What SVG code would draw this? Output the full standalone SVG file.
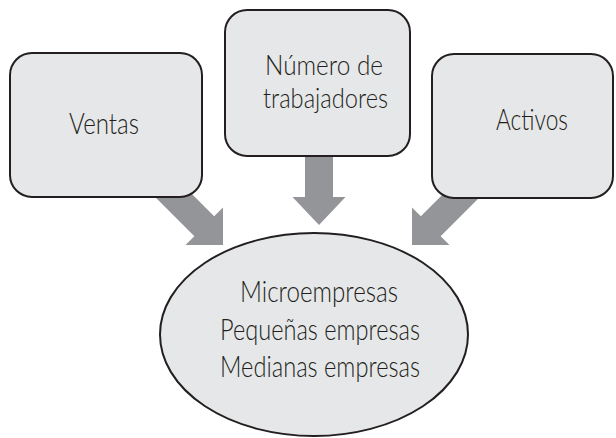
<svg xmlns="http://www.w3.org/2000/svg" width="616" height="438" viewBox="0 0 616 438">
<style>
.box{fill:#e6e7e8;stroke:#231f20;stroke-width:2}
.arr{fill:#939598}
text{font-family:Lato,"Open Sans","Liberation Sans",sans-serif;font-weight:300;font-size:30px;fill:#231f20;text-anchor:middle}
.two{font-size:27px}
</style>
<rect width="616" height="438" fill="#ffffff"/>
<g id="connectors">
<polygon class="arr" points="159.9,162.1 214.16,216.36 223,207.5 223,245 185.5,245 194.36,236.16 140.1,181.9"/>
<polygon class="arr" points="305,150 333,150 333,197 345.5,197 319,225 292.5,197 305,197"/>
<polygon class="arr" points="475.1,162.1 420.84,216.36 412,207.5 412,245 449.5,245 440.64,236.16 494.9,181.9"/>
</g>
<g id="ventas">
<rect class="box" x="10" y="53" width="192" height="144" rx="22"/>
<text x="104" y="134" textLength="70" lengthAdjust="spacingAndGlyphs">Ventas</text>
</g>
<g id="trabajadores">
<rect class="box" x="225" y="10" width="185" height="146" rx="22"/>
<text class="two" x="324" y="75" textLength="118" lengthAdjust="spacingAndGlyphs">Número de</text>
<text class="two" x="325.5" y="108" textLength="125" lengthAdjust="spacingAndGlyphs">trabajadores</text>
</g>
<g id="activos">
<rect class="box" x="432" y="54" width="181" height="144" rx="22"/>
<text x="532" y="130" textLength="72" lengthAdjust="spacingAndGlyphs">Activos</text>
</g>
<g id="empresas">
<ellipse class="box" cx="314" cy="334.5" rx="154" ry="101.5"/>
<text x="319" y="302" textLength="158" lengthAdjust="spacingAndGlyphs">Microempresas</text>
<text x="320" y="340" textLength="200" lengthAdjust="spacingAndGlyphs">Pequeñas empresas</text>
<text x="320" y="377" textLength="200" lengthAdjust="spacingAndGlyphs">Medianas empresas</text>
</g>
</svg>
